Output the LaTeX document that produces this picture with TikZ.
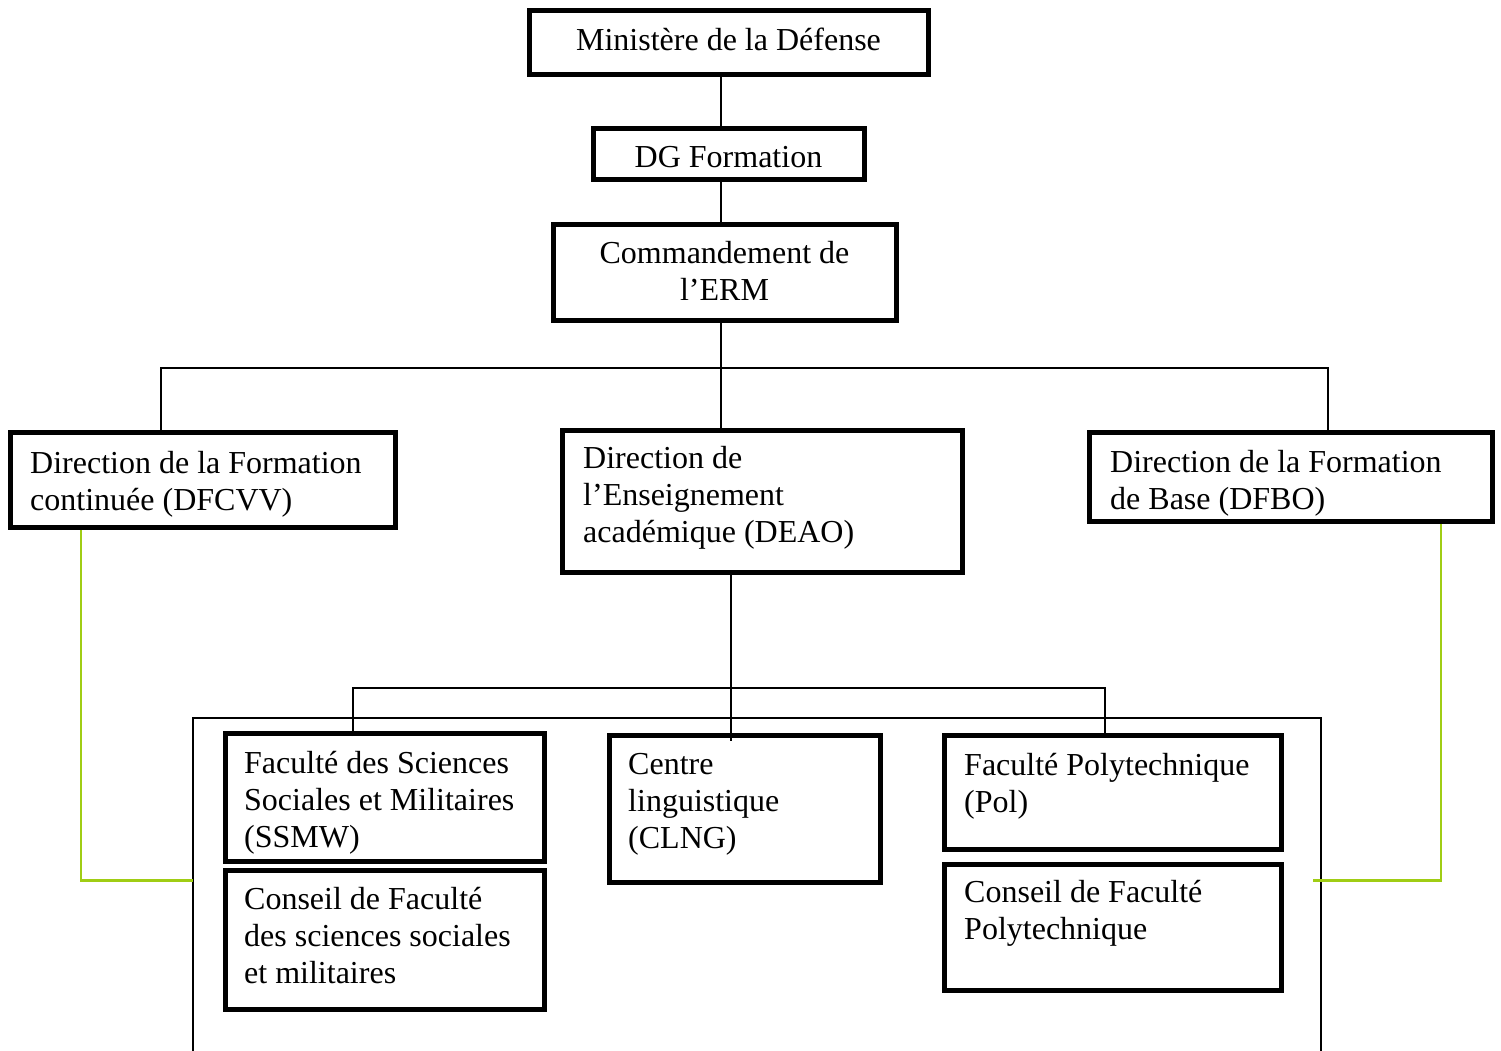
\documentclass[tikz,border=0pt]{standalone}
\usepackage{fontspec}
\setmainfont{Liberation Serif}
\usetikzlibrary{calc}
\definecolor{lime}{RGB}{160,205,20}
\newcommand{\natsp}{\spaceskip=0.25em\relax\xspaceskip=0.25em\relax}
\begin{document}
\begin{tikzpicture}[x=1pt,y=-1pt,
  orgbox/.style={draw=black, line width=5pt, inner sep=0pt, fill=none},
  lbl/.style={inner sep=0pt, text width=380pt, align=left, anchor=base west},
  clbl/.style={inner sep=0pt, text width=360pt, align=center, anchor=base},
  conn/.style={draw=black, line width=2pt},
  green/.style={draw=lime, line width=2.5pt},
  font=\fontsize{32}{37}\selectfont]
\useasboundingbox (0,0) rectangle (1501,1050);

% boxes
\node[orgbox, minimum width=399pt, minimum height=64pt] (min) at (729,42.5) {};
\node[orgbox, minimum width=271pt, minimum height=51pt] (dg) at (729,154) {};
\node[orgbox, minimum width=343pt, minimum height=96pt] (cmd) at (725,272.5) {};
\node[orgbox, minimum width=385pt, minimum height=95pt] (dfc) at (203,480) {};
\node[orgbox, minimum width=400pt, minimum height=142pt] (deao) at (762.5,501.5) {};
\node[orgbox, minimum width=403pt, minimum height=89pt] (dfbo) at (1291,477) {};
\node[orgbox, minimum width=319pt, minimum height=128pt] (ssmw) at (385,797.5) {};
\node[orgbox, minimum width=319pt, minimum height=139pt] (cssmw) at (385,940) {};
\node[orgbox, minimum width=271pt, minimum height=147pt] (clng) at (745,809) {};
\node[orgbox, minimum width=337pt, minimum height=114pt] (pol) at (1113,792.5) {};
\node[orgbox, minimum width=337pt, minimum height=126pt] (cpol) at (1113,927.5) {};

% texts
\node[clbl] (min-t) at (728.5,50) {\natsp Ministère de la Défense};
\node[clbl] (dg-t) at (728.5,167) {\natsp DG Formation};
\node[clbl] (cmd-t) at (724.5,263) {\natsp Commandement de\\l’ERM};
\node[lbl] (dfc-t) at (30,473) {\natsp Direction de la Formation\\continuée (DFCVV)};
\node[lbl] (deao-t) at (583,468) {\natsp Direction de\\l’Enseignement\\académique (DEAO)};
\node[lbl] (dfbo-t) at (1110,472) {\natsp Direction de la Formation\\de Base (DFBO)};
\node[lbl] (ssmw-t) at (244,773) {\natsp Faculté des Sciences\\Sociales et Militaires\\(SSMW)};
\node[lbl] (cssmw-t) at (244,909) {\natsp Conseil de Faculté\\des sciences sociales\\et militaires};
\node[lbl] (clng-t) at (628,774) {\natsp Centre\\linguistique\\(CLNG)};
\node[lbl] (pol-t) at (964,775) {\natsp Faculté Polytechnique\\(Pol)};
\node[lbl] (cpol-t) at (964,902) {\natsp Conseil de Faculté\\Polytechnique};

% helper coordinates
\coordinate (vx) at (721,0);
\coordinate (lx) at (161,0);
\coordinate (rx) at (1328,0);
\coordinate (dx) at (731,0);
\coordinate (sx) at (353,0);
\coordinate (px) at (1105,0);
\coordinate (busA) at (0,368);
\coordinate (busB) at (0,688);

% top connectors
\draw[conn] (vx |- min.south) -- (vx |- dg.north);
\draw[conn] (vx |- dg.south) -- (vx |- cmd.north);
\draw[conn] (vx |- cmd.south) -- (vx |- deao.north);
\draw[conn] (lx |- dfc.north) -- (lx |- busA) -- (rx |- busA) -- (rx |- dfbo.north);

% DEAO branch
\draw[conn] (dx |- deao.south) -- ($(dx |- clng.north)+(0,8)$);
\draw[conn] ($(sx |- ssmw.north)+(0,5)$) -- (sx |- busB) -- (px |- busB) -- (px |- pol.north);

% open frame
\coordinate (fbl) at (193,1052);
\coordinate (ftl) at (193,718);
\coordinate (ftr) at (1321,718);
\coordinate (fbr) at (1321,1052);
\draw[conn] (fbl) -- (ftl) -- (ftr) -- (fbr);

% green connectors
\coordinate (gl) at (81,880.5);
\coordinate (gr) at (1441,880.5);
\draw[green] (gl |- dfc.south) -- (gl) -- (ftl |- gl);
\draw[green] (gr |- dfbo.south) -- (gr) -- (1313,880.5);
\end{tikzpicture}
\end{document}
